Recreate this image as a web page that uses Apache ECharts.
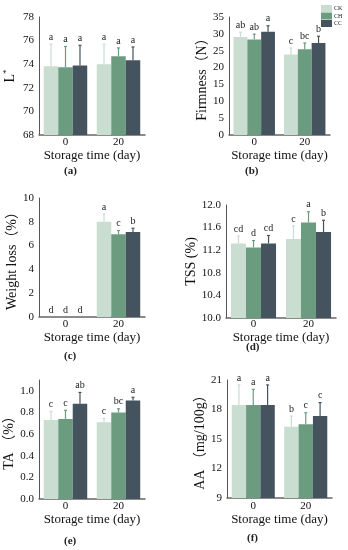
<!DOCTYPE html>
<html><head><meta charset="utf-8">
<script src="https://cdn.jsdelivr.net/npm/echarts@6/dist/echarts.min.js"></script>
<style>html,body{margin:0;padding:0;background:#fff}#c{width:348px;height:550px}</style>
</head><body><div id="c"></div>
<script>
const categories = ['0', '20'];
const seriesNames = ['CK', 'CH', 'CC'];
const colors = ['#c9ddd1', '#6b9c80', '#45535f'];

// Panel a: L*
const aMean = [[73.83, 73.75, 73.9], [74.0, 74.68, 74.34]];
const aErr  = [[75.7, 75.5, 75.6], [75.7, 75.38, 75.46]];
const aLet  = [['a','a','a'], ['a','a','a']];
// Panel b: Firmness
const bMean = [[29.1, 28.3, 30.6], [23.9, 25.4, 27.3]];
const bErr  = [[30.5, 29.9, 32.4], [25.8, 27.3, 29.3]];
const bLet  = [['ab','ab','a'], ['c','bc','b']];
// Panel c: Weight loss
const cMean = [[0, 0, 0], [8.0, 6.96, 7.15]];
const cErr  = [[0, 0, 0], [8.65, 7.27, 7.46]];
const cLet  = [['d','d','d'], ['a','c','b']];
// Panel d: TSS
const dMean = [[11.32, 11.25, 11.32], [11.40, 11.69, 11.52]];
const dErr  = [[11.45, 11.37, 11.46], [11.63, 11.88, 11.73]];
const dLet  = [['cd','d','cd'], ['c','a','b']];
// Panel e: TA
const eMean = [[0.73, 0.74, 0.88], [0.71, 0.80, 0.91]];
const eErr  = [[0.81, 0.82, 0.985], [0.745, 0.834, 0.94]];
const eLet  = [['c','c','ab'], ['c','bc','a']];
// Panel f: AA
const fMean = [[18.45, 18.45, 18.45], [16.25, 16.5, 17.33]];
const fErr  = [[20.5, 20.05, 20.5], [17.33, 17.67, 18.7]];
const fLet  = [['a','a','a'], ['b','c','c']];

const panels = [
  {mean:aMean, err:aErr, let:aLet, min:68, max:78, interval:2, name:'L{sup|*}', nameGap:20, grid:{left:39, top:17, width:106, height:118}, xNameGap:12, xMargin:2, tag:'(a)', tagX:72, tagY:173, dec:0},
  {mean:bMean, err:bErr, let:bLet, min:0, max:35, interval:5, name:'Firmness（N）', nameGap:16, grid:{left:229, top:17, width:101, height:118}, xNameGap:12, xMargin:2, tag:'(b)', tagX:253, tagY:173, dec:0},
  {mean:cMean, err:cErr, let:cLet, min:0, max:10, interval:2, name:'Weight loss（%）', nameGap:15, grid:{left:39, top:198, width:106, height:119}, xNameGap:12, xMargin:2, tag:'(c)', tagX:72, tagY:358, dec:0},
  {mean:dMean, err:dErr, let:dLet, min:10, max:12, interval:0.4, name:'TSS (%)', nameGap:23, grid:{left:226, top:205, width:110, height:113}, xNameGap:9, xMargin:1, tag:'(d)', tagX:254, tagY:349, dec:1},
  {mean:eMean, err:eErr, let:eLet, min:0, max:1.1, interval:0.2, name:'TA （%）', nameGap:21, grid:{left:39, top:380, width:106, height:119}, xNameGap:10, xMargin:2, tag:'(e)', tagX:72, tagY:543, dec:1},
  {mean:fMean, err:fErr, let:fLet, min:9, max:21, interval:3, name:'AA （mg/100g）', nameGap:18, grid:{left:227, top:380, width:105, height:118}, xNameGap:12, xMargin:3, tag:'(f)', tagX:255, tagY:540, dec:0}
];

const serif = '"Liberation Serif", "Noto Sans CJK SC", serif';
const GAP = 0.18;
const grids = [], xAxes = [], yAxes = [], series = [], graphics = [];

panels.forEach((p, pi) => {
  grids.push(Object.assign({containLabel:false}, p.grid));
  xAxes.push({
    type:'category', gridIndex:pi, data:categories,
    name:'Storage time (day)', nameLocation:'middle', nameGap:p.xNameGap,
    nameTextStyle:{fontFamily:serif, fontSize:13, color:'#111'},
    axisLine:{lineStyle:{color:'#666', width:1.5}},
    axisTick:{show:false},
    axisLabel:{fontFamily:serif, fontSize:11, color:'#111', margin:p.xMargin}
  });
  yAxes.push({
    type:'value', gridIndex:pi, min:p.min, max:p.max, interval:p.interval,
    name:p.name, nameLocation:'middle', nameGap:p.nameGap, nameRotate:90,
    nameTextStyle:{fontFamily:serif, fontSize:14, color:'#111', rich:{sup:{fontFamily:serif, fontSize:9, verticalAlign:'top', padding:[0,0,8,0], color:'#111'}}},
    axisLine:{show:true, lineStyle:{color:'#555', width:1}},
    axisTick:{show:false},
    splitLine:{show:false},
    axisLabel:{fontFamily:serif, fontSize:11, color:'#111', margin:5,
      formatter: v => (Math.abs(v - p.max) < 1e-9 && Math.abs(((v - p.min) / p.interval) - Math.round((v - p.min) / p.interval)) > 1e-6) ? '' : v.toFixed(p.dec)}
  });
  seriesNames.forEach((sn, si) => {
    series.push({
      type:'bar', name:sn, xAxisIndex:pi, yAxisIndex:pi,
      data:categories.map((c, ci) => p.mean[ci][si]),
      itemStyle:{color:colors[si]},
      barGap:'0%', barCategoryGap:(GAP*100)+'%',
      emphasis:{disabled:true}, silent:true
    });
  });
  seriesNames.forEach((sn, si) => {
    series.push({
      type:'custom', xAxisIndex:pi, yAxisIndex:pi, silent:true,
      data:categories.map((c, ci) => [ci, p.mean[ci][si], p.err[ci][si], p.let[ci][si]]),
      renderItem:(params, api) => {
        const ci = api.value(0);
        const base = api.coord([ci, api.value(1)]);
        const top = api.coord([ci, api.value(2)]);
        const band = api.size([1, 0])[0];
        const bw = band * (1 - GAP) / 3;
        const x = base[0] + (si - 1) * bw;
        const letter = p.let[ci][si];
        const children = [];
        if (api.value(2) > api.value(1)) {
          children.push({type:'line', shape:{x1:x, y1:base[1], x2:x, y2:top[1]}, style:{stroke:colors[si], lineWidth:1.2}});
          children.push({type:'line', shape:{x1:x-1.5, y1:top[1], x2:x+1.5, y2:top[1]}, style:{stroke:colors[si], lineWidth:1.2}});
        }
        children.push({type:'text', style:{text:letter, x:x, y:top[1]-2, textAlign:'center', textVerticalAlign:'bottom', font:'10px ' + serif, fill:'#222'}});
        return {type:'group', children};
      }
    });
  });
  graphics.push({type:'text', left:p.tagX - 8, top:p.tagY - 7, style:{text:p.tag, font:'bold 11px ' + serif, fill:'#222'}});
});

// legend (panel b, top right)
seriesNames.forEach((sn, si) => {
  graphics.push({type:'rect', shape:{x:321, y:5 + si*7.5, width:11, height:7}, style:{fill:colors[si]}});
  graphics.push({type:'text', style:{text:sn, x:334, y:8.5 + si*7.5, textVerticalAlign:'middle', font:'6px ' + serif, fill:'#222'}});
});

const chart = echarts.init(document.getElementById('c'), null, {renderer:'canvas'});
chart.setOption({
  animation:false, backgroundColor:'#fff',
  grid:grids, xAxis:xAxes, yAxis:yAxes, series:series, graphic:graphics
});
</script></body></html>
